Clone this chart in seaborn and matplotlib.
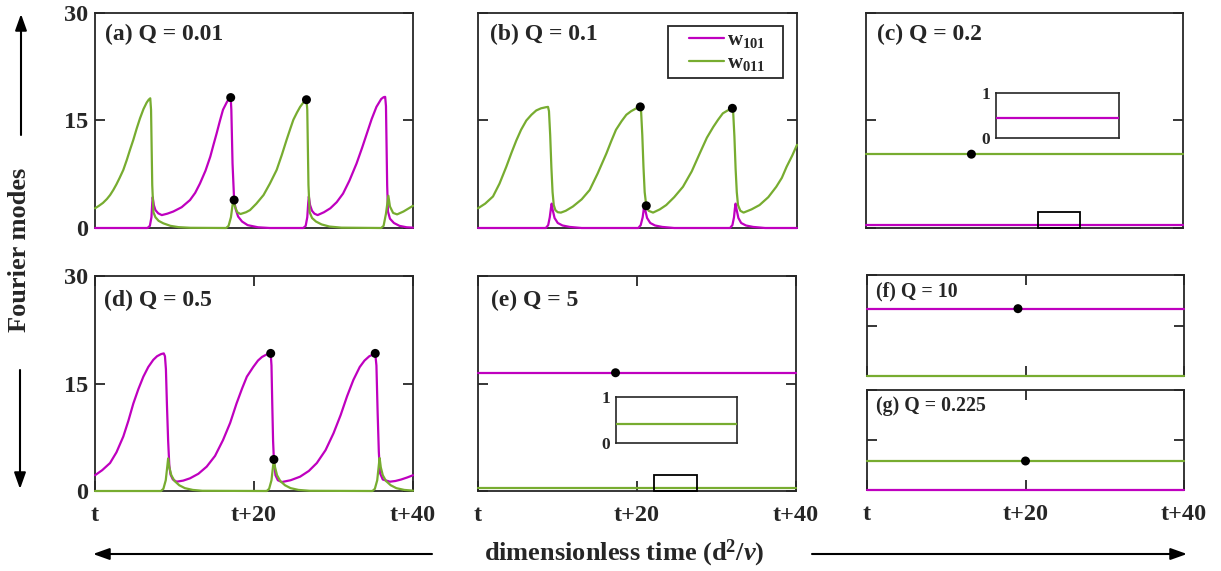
import matplotlib
matplotlib.use("Agg")
import matplotlib.pyplot as plt
import seaborn as sns
import pandas as pd
from matplotlib.patches import Rectangle, FancyArrowPatch

# ---------------------------------------------------------------- data
# each series is a list of (time, amplitude) samples
# (a) Q = 0.01
a_w101 = [(0, 0), (6.6, 0), (6.9, 0.3), (7.1, 1.5), (7.2, 3.5), (7.26, 4.3), (7.4, 3.2),
          (7.6, 2.5), (7.95, 2.05), (8.4, 1.8), (9.1, 2.0), (9.85, 2.3), (10.9, 2.9),
          (11.95, 3.9), (12.6, 4.9), (13.2, 6.2), (13.9, 8.0), (14.5, 9.95), (14.9, 11.6),
          (15.3, 13.2), (15.7, 14.9), (16.1, 16.5), (16.6, 17.6), (16.85, 18.0),
          (17.07, 18.2), (17.15, 16.5), (17.3, 9.0), (17.5, 3.9), (17.7, 2.6), (18.0, 1.6),
          (18.5, 0.9), (19.2, 0.4), (20.5, 0.1), (22.0, 0), (26.2, 0), (26.5, 0.3),
          (26.7, 1.5), (26.82, 3.5), (26.9, 4.4), (27.05, 3.2), (27.3, 2.4), (27.6, 2.0),
          (28.0, 1.8), (28.8, 2.2), (29.6, 2.75), (30.4, 3.6), (31.2, 4.8), (32.0, 6.6),
          (32.9, 9.0), (33.6, 11.2), (34.2, 13.2), (34.8, 15.2), (35.4, 16.9), (36.0, 18.0),
          (36.3, 18.25), (36.5, 18.3), (36.6, 17.0), (36.75, 6.0), (36.85, 2.3),
          (37.1, 1.3), (37.6, 0.7), (38.3, 0.3), (39.2, 0.1), (40, 0.05)]
a_w011 = [(0, 2.75), (0.5, 3.1), (1.0, 3.5), (1.5, 4.05), (1.9, 4.6), (2.3, 5.3), (2.7, 6.1),
          (3.1, 7.0), (3.56, 8.1), (4.0, 9.5), (4.4, 10.9), (4.82, 12.3), (5.25, 13.9),
          (5.66, 15.3), (6.1, 16.6), (6.5, 17.5), (6.75, 17.9), (6.95, 18.1), (7.05, 16.5),
          (7.2, 6.0), (7.35, 2.2), (7.6, 1.5), (8.0, 1.0), (8.6, 0.65), (9.5, 0.3),
          (10.5, 0.12), (12.0, 0.03), (16.5, 0), (16.8, 0.3), (17.1, 1.5), (17.3, 3.2),
          (17.45, 4.0), (17.6, 3.0), (17.9, 2.2), (18.3, 1.95), (19.0, 2.2), (19.5, 2.5),
          (20.3, 3.4), (21.2, 4.6), (22.0, 6.2), (22.85, 8.1), (23.5, 10.2), (24.1, 12.3),
          (24.55, 13.8), (24.95, 15.1), (25.4, 16.1), (25.8, 16.9), (26.2, 17.5),
          (26.6, 17.9), (26.7, 16.5), (26.85, 6.0), (27.0, 2.2), (27.3, 1.4), (27.8, 0.9),
          (28.5, 0.5), (29.5, 0.2), (31.0, 0.05), (36.0, 0), (36.3, 0.3), (36.6, 2.0),
          (36.9, 4.5), (37.1, 3.0), (37.5, 2.1), (38.0, 1.9), (38.8, 2.3), (39.4, 2.7),
          (40, 3.1)]
a_dots = [(17.07, 18.2), (17.5, 3.9), (26.6, 17.9)]

# (b) Q = 0.1
b_w101 = [(0, 0), (8.5, 0), (8.8, 0.4), (9.0, 1.5), (9.15, 2.8), (9.24, 3.4), (9.35, 2.6),
          (9.6, 1.4), (10.0, 0.7), (10.6, 0.35), (11.5, 0.15), (13.0, 0), (20.1, 0),
          (20.4, 0.4), (20.65, 1.5), (20.78, 2.6), (20.86, 3.1), (20.97, 2.5), (21.2, 1.4),
          (21.6, 0.7), (22.2, 0.35), (23.1, 0.15), (24.6, 0), (31.6, 0), (31.9, 0.4),
          (32.1, 1.5), (32.22, 2.8), (32.3, 3.4), (32.42, 2.6), (32.65, 1.4), (33.0, 0.7),
          (33.6, 0.35), (34.5, 0.15), (36.0, 0), (40, 0)]
b_w011 = [(0, 2.75), (0.9, 3.4), (1.88, 4.4), (2.7, 6.2), (3.55, 8.55), (4.2, 10.5),
          (4.8, 12.2), (5.4, 13.7), (6.06, 15.0), (6.7, 15.8), (7.3, 16.4), (7.9, 16.7),
          (8.5, 16.85), (8.78, 16.9), (8.9, 16.3), (9.05, 13.0), (9.2, 8.5), (9.35, 5.0),
          (9.5, 3.2), (9.7, 2.5), (10.0, 2.2), (10.4, 2.15), (11.0, 2.4), (11.9, 3.0),
          (13.0, 4.0), (14.0, 5.3), (15.0, 7.6), (16.1, 10.4), (16.7, 12.1), (17.3, 13.7),
          (18.0, 14.9), (18.6, 15.8), (19.2, 16.3), (19.85, 16.7), (20.35, 16.9),
          (20.45, 16.3), (20.6, 13.0), (20.75, 8.5), (20.9, 5.0), (21.1, 3.1), (21.4, 2.4),
          (21.95, 2.15), (22.8, 2.6), (23.6, 3.2), (24.6, 4.3), (25.7, 5.75), (26.8, 7.9),
          (27.8, 10.4), (28.7, 12.6), (29.5, 14.1), (30.1, 15.1), (30.7, 16.0),
          (31.3, 16.4), (31.9, 16.7), (32.0, 16.1), (32.15, 12.8), (32.3, 8.3),
          (32.45, 5.0), (32.6, 3.2), (32.9, 2.4), (33.3, 2.15), (34.3, 2.6), (35.3, 3.2),
          (36.4, 4.3), (37.4, 5.75), (38.1, 7.0), (38.7, 8.55), (39.4, 10.1), (40, 11.6)]
b_dots = [(20.35, 16.9), (21.1, 3.1), (31.9, 16.7)]

# (d) Q = 0.5
d_w101 = [(0, 2.2), (0.9, 2.9), (1.89, 3.9), (2.7, 5.4), (3.56, 7.6), (4.2, 9.8),
          (4.82, 12.2), (5.45, 14.2), (6.08, 15.95), (6.7, 17.3), (7.33, 18.3), (7.8, 18.8),
          (8.3, 19.1), (8.65, 19.2), (8.8, 18.8), (8.92, 17.0), (9.05, 12.0), (9.2, 7.0),
          (9.35, 3.5), (9.5, 2.3), (9.8, 1.6), (10.27, 1.3), (11.1, 1.45), (11.95, 1.77),
          (13.0, 2.4), (14.05, 3.4), (15.1, 4.9), (16.1, 7.1), (17.0, 9.5), (17.8, 12.2),
          (18.5, 14.3), (19.1, 15.95), (19.9, 17.3), (20.5, 18.2), (21.0, 18.7),
          (21.5, 19.0), (21.9, 19.2), (22.1, 19.2), (22.2, 17.5), (22.3, 12.0), (22.4, 7.0),
          (22.5, 4.4), (22.7, 2.2), (23.0, 1.5), (23.5, 1.25), (24.6, 1.5), (25.8, 2.0),
          (26.9, 2.8), (27.9, 3.9), (29.0, 5.7), (30.0, 8.05), (30.9, 10.6), (31.7, 13.2),
          (32.5, 15.5), (33.3, 17.3), (33.9, 18.2), (34.5, 18.8), (35.25, 19.2),
          (35.4, 17.5), (35.55, 11.0), (35.7, 5.5), (35.85, 2.5), (36.2, 1.6), (37.1, 1.3),
          (37.8, 1.4), (38.5, 1.6), (39.3, 1.9), (40, 2.2)]
d_w011 = [(0, 0), (8.3, 0), (8.6, 0.3), (8.9, 1.5), (9.1, 3.5), (9.2, 4.55), (9.35, 3.3),
          (9.6, 2.2), (10.0, 1.4), (10.6, 0.8), (11.3, 0.4), (12.3, 0.15), (13.5, 0.03),
          (21.6, 0), (21.9, 0.3), (22.2, 1.5), (22.4, 3.5), (22.5, 4.4), (22.65, 3.3),
          (22.9, 2.2), (23.3, 1.4), (23.9, 0.8), (24.6, 0.4), (25.6, 0.15), (27.0, 0.03),
          (34.9, 0), (35.2, 0.3), (35.5, 1.5), (35.7, 3.6), (35.8, 4.6), (35.95, 3.3),
          (36.2, 2.2), (36.6, 1.4), (37.2, 0.8), (37.9, 0.4), (38.9, 0.15), (40, 0.05)]
d_dots = [(22.1, 19.2), (22.5, 4.4), (35.25, 19.2)]

# steady states: (c) Q = 0.2, (e) Q = 5, (f) Q = 10, (g) Q = 0.225
t_flat = [0, 40]
c_w101, c_w011 = 0.45, 10.3
e_w101, e_w011 = 16.5, 0.42
f_w101, f_w011 = 20.0, 0.0
g_w101, g_w011 = 0.0, 8.7
c_dots = [(13.3, 10.3)]
e_dots = [(17.3, 16.5)]
f_dots = [(19.05, 20.0)]
g_dots = [(20.0, 8.7)]
c_zoom = (21.7, 27.0, 0.0, 2.2)
e_zoom = (22.2, 27.5, 0.0, 2.2)

x_ticks = [0, 20, 40]
x_ticklabels = ["t", "t+20", "t+40"]
y_ticks = [0, 15, 30]
y_ticklabels = ["0", "15", "30"]
legend_labels = [r"$\mathrm{w}_{101}$", r"$\mathrm{w}_{011}$"]

# ---------------------------------------------------------------- style
sns.set_theme(style="white")
plt.rcParams["font.family"] = ["Liberation Serif", "DejaVu Serif"]
plt.rcParams["font.weight"] = "bold"
plt.rcParams["mathtext.fontset"] = "custom"
plt.rcParams["mathtext.rm"] = "Liberation Serif:bold"
plt.rcParams["mathtext.bf"] = "Liberation Serif:bold"
plt.rcParams["mathtext.it"] = "Liberation Serif:italic:bold"
plt.rcParams["axes.edgecolor"] = "#262626"
plt.rcParams["axes.linewidth"] = 1.3

MAG = "#BF00BF"
GRN = "#77AC30"
LW = 1.6
EDGE = "#262626"
W, H = 1221, 571

fig = plt.figure(figsize=(W / 100, H / 100), dpi=100)


def box(x0, y0, x1, y1):
    """Axes rectangle from pixel edges (top-left origin)."""
    return [x0 / W, 1 - y1 / H, (x1 - x0) / W, (y1 - y0) / H]


def line(ax, pts, color, label=None, clip=False):
    df = pd.DataFrame(pts, columns=["t", "v"])
    sns.lineplot(data=df, x="t", y="v", ax=ax, color=color, linewidth=LW,
                 label=label, legend=False, clip_on=clip, zorder=3)


def flat(value):
    return [(t, value) for t in t_flat]


def dots(ax, pts):
    df = pd.DataFrame(pts, columns=["t", "v"])
    sns.scatterplot(data=df, x="t", y="v", ax=ax, color="black", s=42,
                    edgecolor="none", zorder=5, clip_on=False)


def frame(ax, bottom_row, ylabels, xlabels):
    ax.set_xlim(0, 40)
    ax.set_ylim(0, 30)
    ax.set_xlabel("")
    ax.set_ylabel("")
    ax.set_yticks(y_ticks)
    ax.set_yticklabels(y_ticklabels if ylabels else [])
    if bottom_row:
        ax.set_xticks(x_ticks)
        ax.set_xticklabels(x_ticklabels if xlabels else [])
        ax.tick_params(axis="x", direction="in", top=True, bottom=True,
                       length=7, width=1.3, pad=10, labelsize=17.5)
    else:
        ax.set_xticks([])
    ax.tick_params(axis="y", direction="in", left=True, right=True,
                   length=7, width=1.3, pad=5, labelsize=17.5)
    for s in ax.spines.values():
        s.set_visible(True)
        s.set_color(EDGE)
        s.set_linewidth(1.3)


def panel_label(ax, text, x, y, size=17):
    ax.text(x, y, text, transform=ax.transAxes, ha="left", va="center",
            fontsize=size, fontweight="bold")


def inset(rect, pts, color, z):
    ia = fig.add_axes(rect)
    line(ia, pts, color, clip=True)
    ia.set_xlim(z[0], z[1])
    ia.set_ylim(0, 1)
    ia.set_xticks([])
    ia.set_yticks([0, 1])
    ia.set_yticklabels(["0", "1"])
    ia.set_xlabel("")
    ia.set_ylabel("")
    ia.tick_params(axis="y", length=0, pad=4, labelsize=12.5)
    for s in ia.spines.values():
        s.set_visible(True)
        s.set_color(EDGE)
        s.set_linewidth(1.2)
    return ia


def zoom_rect(ax, z):
    ax.add_patch(Rectangle((z[0], z[2]), z[1] - z[0], z[3] - z[2], fill=False,
                           edgecolor="black", linewidth=1.3, zorder=4, clip_on=False))


# (a)
ax_a = fig.add_axes(box(95, 13, 413, 228))
line(ax_a, a_w101, MAG)
line(ax_a, a_w011, GRN)
dots(ax_a, a_dots)
frame(ax_a, False, True, False)
panel_label(ax_a, "(a) Q = 0.01", 0.031, 0.898)

# (b)
ax_b = fig.add_axes(box(478, 13, 797, 228))
line(ax_b, b_w101, MAG, label=legend_labels[0])
line(ax_b, b_w011, GRN, label=legend_labels[1])
dots(ax_b, b_dots)
frame(ax_b, False, False, False)
panel_label(ax_b, "(b) Q = 0.1", 0.038, 0.898)
handles, labels = ax_b.get_legend_handles_labels()
ax_b.legend(handles, labels, loc="center left", bbox_to_anchor=(0.661, 0.821),
            fontsize=15, frameon=False, handlelength=1.68, handletextpad=0.15,
            borderpad=0, labelspacing=0.15, borderaxespad=0)
ax_b.add_patch(Rectangle((0.5956, 0.698), 0.956 - 0.5956, 0.9395 - 0.698,
                         transform=ax_b.transAxes, fill=False, edgecolor=EDGE,
                         linewidth=1.3, zorder=6))

# (c)
ax_c = fig.add_axes(box(866, 13, 1183, 228))
line(ax_c, flat(c_w101), MAG)
line(ax_c, flat(c_w011), GRN)
dots(ax_c, c_dots)
zoom_rect(ax_c, c_zoom)
frame(ax_c, False, False, False)
panel_label(ax_c, "(c) Q = 0.2", 0.034, 0.898)
inset(box(996, 93, 1119, 138), flat(c_w101), MAG, c_zoom)

# (d)
ax_d = fig.add_axes(box(95, 276, 413, 491))
line(ax_d, d_w101, MAG)
line(ax_d, d_w011, GRN)
dots(ax_d, d_dots)
frame(ax_d, True, True, True)
panel_label(ax_d, "(d) Q = 0.5", 0.027, 0.888)

# (e)
ax_e = fig.add_axes(box(478, 276, 796, 491))
line(ax_e, flat(e_w101), MAG)
line(ax_e, flat(e_w011), GRN)
dots(ax_e, e_dots)
zoom_rect(ax_e, e_zoom)
frame(ax_e, True, False, True)
panel_label(ax_e, "(e) Q = 5", 0.04, 0.885)
inset(box(616, 397, 737, 443), flat(e_w011), GRN, e_zoom)

# (f)
ax_f = fig.add_axes(box(867, 275, 1184, 376))
line(ax_f, flat(f_w101), MAG)
line(ax_f, flat(f_w011), GRN)
dots(ax_f, f_dots)
frame(ax_f, True, False, False)
panel_label(ax_f, "(f) Q = 10", 0.027, 0.835, size=14.3)

# (g)
ax_g = fig.add_axes(box(867, 390, 1184, 490))
line(ax_g, flat(g_w011), GRN)
line(ax_g, flat(g_w101), MAG)
dots(ax_g, g_dots)
frame(ax_g, True, False, True)
panel_label(ax_g, "(g) Q = 0.225", 0.027, 0.843, size=14.3)

# shared axis titles and direction arrows
fig.text(20 / W, 1 - 250 / H, "Fourier modes", rotation=90, ha="center",
         va="center", fontsize=19, fontweight="bold")
fig.text(624 / W, 1 - 553 / H, r"dimensionless time (d$^{2}$/$\nu$)",
         ha="center", va="center", fontsize=19, fontweight="bold")


def arrow(x0, y0, x1, y1):
    fig.add_artist(FancyArrowPatch((x0 / W, 1 - y0 / H), (x1 / W, 1 - y1 / H),
                                   transform=fig.transFigure,
                                   arrowstyle="-|>,head_length=0.7,head_width=0.25",
                                   mutation_scale=14, color="black", linewidth=1.5,
                                   shrinkA=0, shrinkB=0))


arrow(21, 135, 21, 14)
arrow(20, 370, 20, 489)
arrow(432, 554, 93, 554)
arrow(812, 554, 1187, 554)

fig.savefig("out.png", dpi=100)
